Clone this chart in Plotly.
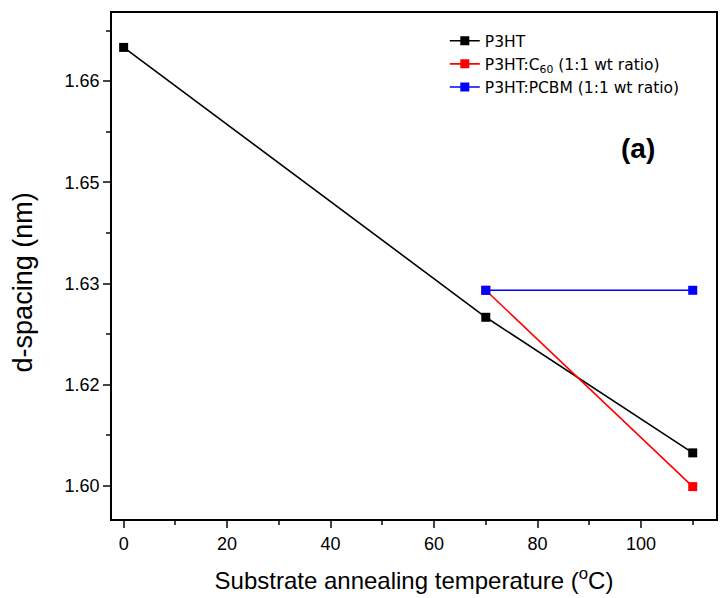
import plotly.graph_objects as go

# Data
p3ht_x = [0, 70, 110]
p3ht_y = [1.665, 1.625, 1.6049]
c60_x = [70, 110]
c60_y = [1.629, 1.5999]
pcbm_x = [70, 110]
pcbm_y = [1.629, 1.629]

ytick_vals = [1.600, 1.615, 1.630, 1.645, 1.660]
ytick_text = ["1.60", "1.62", "1.63", "1.65", "1.66"]
xtick_vals = [0, 20, 40, 60, 80, 100]

fig = go.Figure()
fig.add_trace(go.Scatter(x=p3ht_x, y=p3ht_y, mode="lines+markers", name="P3HT",
                         line=dict(color="black", width=1.6),
                         marker=dict(symbol="square", size=9, color="black")))
fig.add_trace(go.Scatter(x=c60_x, y=c60_y, mode="lines+markers",
                         name="P3HT:C<sub>60</sub> (1:1 wt ratio)",
                         line=dict(color="red", width=1.6),
                         marker=dict(symbol="square", size=9, color="red")))
fig.add_trace(go.Scatter(x=pcbm_x, y=pcbm_y, mode="lines+markers",
                         name="P3HT:PCBM (1:1 wt ratio)",
                         line=dict(color="blue", width=1.6),
                         marker=dict(symbol="square", size=9, color="blue")))

font_family = "Liberation Sans, Arial, sans-serif"

fig.update_layout(
    width=720, height=598,
    margin=dict(l=112, r=2, t=13, b=79),
    paper_bgcolor="white", plot_bgcolor="white",
    font=dict(family=font_family, color="black"),
    showlegend=True,
    legend=dict(x=0.551, y=0.978, xanchor="left", yanchor="top",
                bgcolor="rgba(0,0,0,0)",
                font=dict(size=15.5, family="DejaVu Sans, sans-serif"),
                tracegroupgap=0, itemwidth=30),
    xaxis=dict(range=[-2.25, 114.5], tickvals=xtick_vals, ticks="outside",
               ticklen=7, tickwidth=1.5, showline=True, linecolor="black",
               linewidth=1.8, mirror=True, showgrid=False, zeroline=False,
               tickfont=dict(size=18),
               minor=dict(dtick=10, tick0=0, ticks="outside", ticklen=4,
                          tickwidth=1.5, showgrid=False),
               title=dict(text="Substrate annealing temperature (<sup>o</sup>C)",
                          font=dict(size=24), standoff=20)),
    yaxis=dict(range=[1.5951, 1.6701], tickvals=ytick_vals, ticktext=ytick_text,
               ticks="outside", ticklen=7, tickwidth=1.5, showline=True,
               linecolor="black", linewidth=1.8, mirror=True, showgrid=False,
               zeroline=False, tickfont=dict(size=18),
               minor=dict(tickvals=[1.6075, 1.6225, 1.6375, 1.6525, 1.6675],
                          ticks="outside", ticklen=4, tickwidth=1.5, showgrid=False)),
    annotations=[
        dict(text="<b>(a)</b>", x=0.871, y=0.733, xref="paper", yref="paper",
             xanchor="center", yanchor="middle", showarrow=False,
             font=dict(size=28, family=font_family)),
        dict(text="d-spacing (nm)", x=-0.147, y=0.468, xref="paper", yref="paper",
             xanchor="center", yanchor="middle", showarrow=False, textangle=-90,
             font=dict(size=27, family=font_family)),
    ],
)

fig.write_html("out.html")
